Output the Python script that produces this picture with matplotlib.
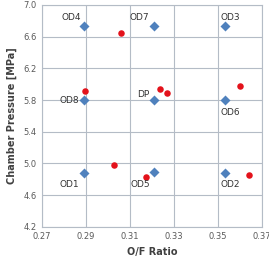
import matplotlib
matplotlib.use('Agg')
import matplotlib.pyplot as plt

# design points (blue diamonds)
design_names = ['OD4', 'OD7', 'OD3', 'OD8', 'DP', 'OD6', 'OD1', 'OD5', 'OD2']
design_of = [0.289, 0.321, 0.353, 0.289, 0.321, 0.353, 0.289, 0.321, 0.353]
design_pc = [6.73, 6.73, 6.73, 5.80, 5.80, 5.80, 4.88, 4.89, 4.88]

# test results (red circles)
test_of = [0.3058, 0.2897, 0.3238, 0.3270, 0.3600, 0.3029, 0.3174, 0.3641]
test_pc = [6.65, 5.91, 5.94, 5.89, 5.98, 4.98, 4.83, 4.86]

# label offsets in pixels and alignment
label_pos = {
    'OD4': (-13, 9, 'center', 'center'),
    'OD7': (-15, 9, 'center', 'center'),
    'OD3': (6, 9, 'center', 'center'),
    'OD8': (-5, 0, 'right', 'center'),
    'DP': (-5, 6, 'right', 'center'),
    'OD6': (6, -12, 'center', 'center'),
    'OD1': (-14, -12, 'center', 'center'),
    'OD5': (-14, -12, 'center', 'center'),
    'OD2': (6, -12, 'center', 'center'),
}

fig = plt.figure(figsize=(2.69, 2.62), dpi=100)
ax = fig.add_axes([0.156, 0.134, 0.818, 0.847])

ax.scatter(test_of, test_pc, marker='o', s=22, color='#e3121b', zorder=3, linewidths=0)
ax.scatter(design_of, design_pc, marker='D', s=26, color='#4f81bd', zorder=3, linewidths=0)

for name, x, y in zip(design_names, design_of, design_pc):
    dx, dy, ha, va = label_pos[name]
    ax.annotate(name, (x, y), xytext=(dx, dy), textcoords='offset pixels',
                ha=ha, va=va, fontsize=6.5, color='#333333')

ax.set_xlim(0.27, 0.37)
ax.set_ylim(4.2, 7.0)
ax.set_xticks([0.27, 0.29, 0.31, 0.33, 0.35, 0.37])
ax.set_yticks([4.2, 4.6, 5.0, 5.4, 5.8, 6.2, 6.6, 7.0])
ax.xaxis.set_major_formatter(matplotlib.ticker.FormatStrFormatter('%.2f'))
ax.yaxis.set_major_formatter(matplotlib.ticker.FormatStrFormatter('%.1f'))
ax.tick_params(labelsize=6, colors='#595959', length=0, pad=4)
ax.grid(True, color='#b4bcc6', linewidth=0.8)
ax.set_axisbelow(True)
for s in ax.spines.values():
    s.set_color('#b4bcc6')
    s.set_linewidth(0.8)

ax.set_xlabel('O/F Ratio', fontsize=7, fontweight='bold', color='#404040', labelpad=4)
ax.set_ylabel('Chamber Pressure [MPa]', fontsize=7, fontweight='bold', color='#404040', labelpad=4)

fig.savefig('out.png', dpi=100, facecolor='white')
